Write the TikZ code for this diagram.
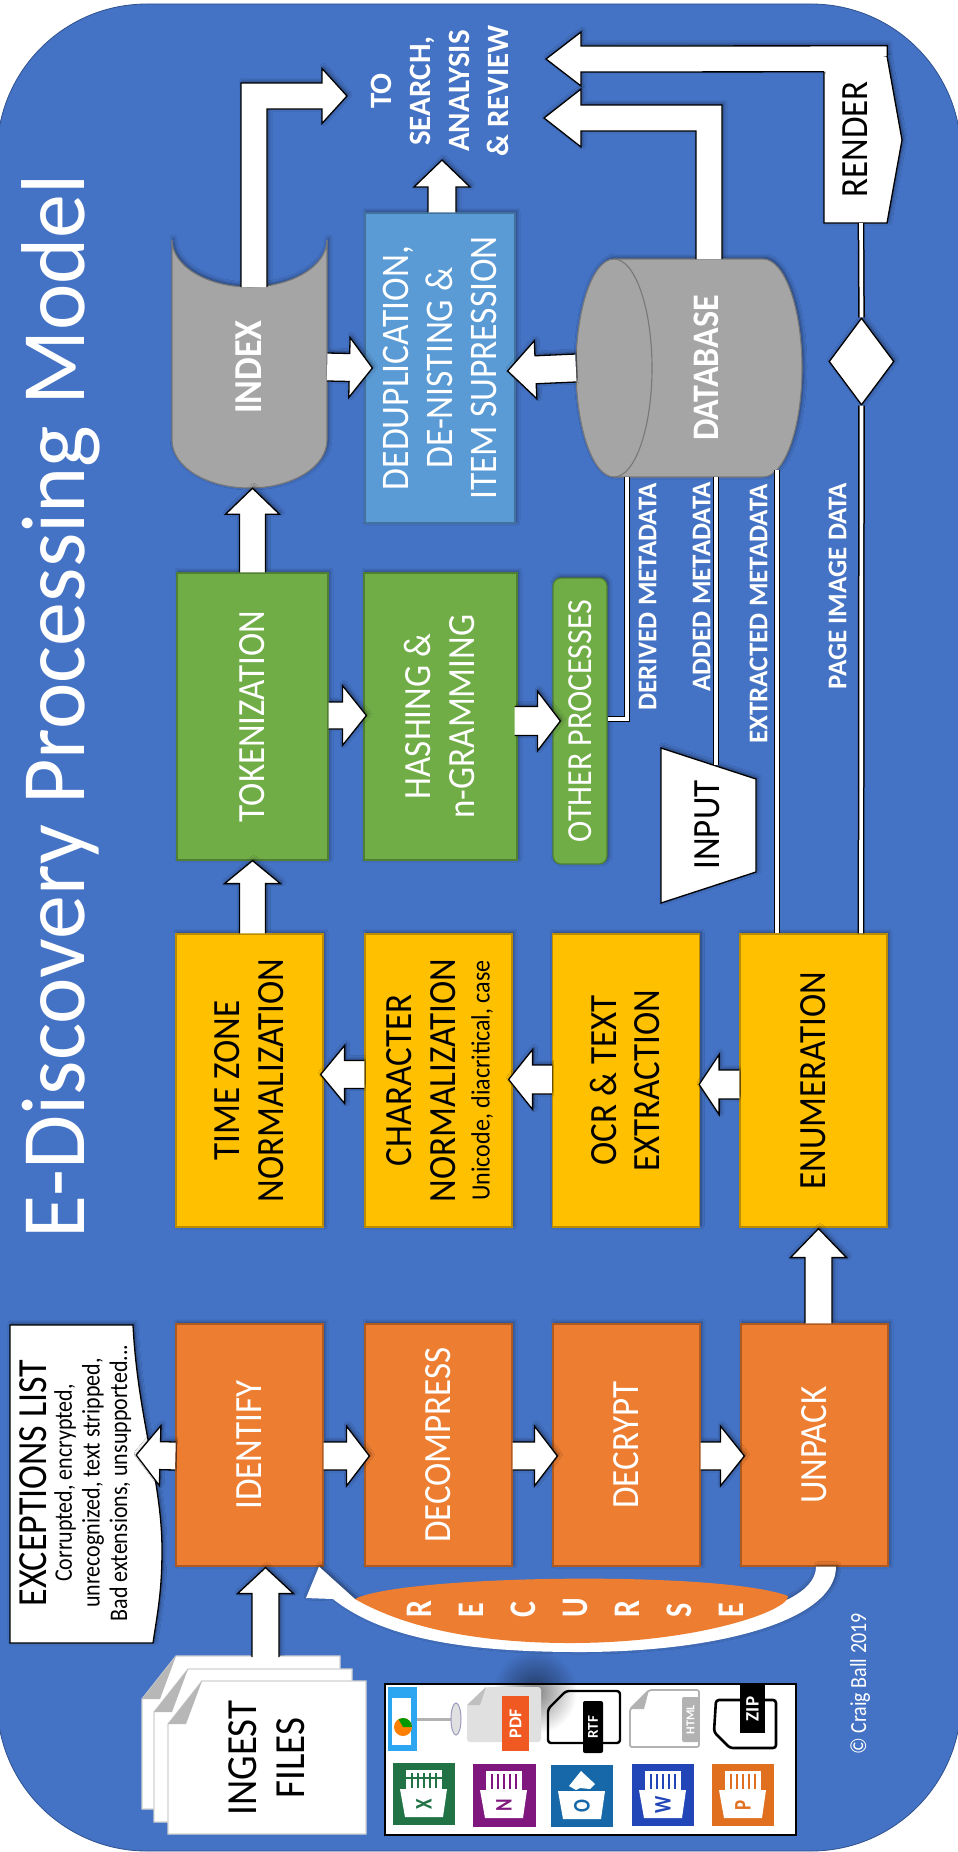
\documentclass[tikz,border=0pt]{standalone}
\usepackage{fontspec}
\setmainfont{Carlito}
\usetikzlibrary{calc,shapes.geometric,shadows.blur,fadings}
\definecolor{bgblue}{HTML}{4472C4}
\definecolor{bgedge}{HTML}{2F528F}
\definecolor{orangefill}{HTML}{ED7D31}
\definecolor{orangeedge}{HTML}{AE5A21}
\definecolor{yellowfill}{HTML}{FFC000}
\definecolor{yellowedge}{HTML}{BC8C00}
\definecolor{greenfill}{HTML}{70AD47}
\definecolor{greenedge}{HTML}{507E32}
\definecolor{bluefill}{HTML}{5B9BD5}
\definecolor{blueedge}{HTML}{41719C}
\definecolor{grayfill}{HTML}{A5A5A5}
\definecolor{grayedge}{HTML}{787878}
\definecolor{xlcolor}{HTML}{217346}
\definecolor{oncolor}{HTML}{80177F}
\definecolor{olcolor}{HTML}{1668A8}
\definecolor{wdcolor}{HTML}{2245B8}
\definecolor{ppcolor}{HTML}{E07020}
\definecolor{pdfcolor}{HTML}{F05A22}
\definecolor{kncolor}{HTML}{2CA6F0}
\tikzfading[name=softglow,inner color=transparent!50,outer color=transparent!100]
\newcommand\rt[2][1.1]{\rotatebox{90}{\scalebox{1}[#1]{\raisebox{-.09em}[\height][\depth]{\begin{tabular}{@{}c@{}}#2\end{tabular}}}}}
\newcommand\rl[1]{\makebox[52pt]{\rotatebox{90}{\scalebox{1}[1.25]{#1}}}}
\newcommand\barrow[5]{%
  \path #1 coordinate (bA); \path #2 coordinate (bB);
  \path ($(bB)!#5!(bA)$) coordinate (bH);
  \draw[blockarrow] ($(bA)!#3!90:(bB)$) -- ($(bH)!#3!-90:(bA)$) -- ($(bH)!#4!-90:(bA)$) -- (bB)
     -- ($(bH)!#4!90:(bA)$) -- ($(bH)!#3!90:(bA)$) -- ($(bA)!#3!-90:(bB)$);}
\newcommand\bentarrow[5]{% start, tip, sign, head length, head half
  \path #1 coordinate (bS); \path #2 coordinate (bT);
  \draw[blockarrow] ($(bS)+(-#3*13,0)$) -- ($(bS |- bT)+(-#3*13,-13)$) -- ($(bT)+(-#3*#4,-13)$)
     -- ($(bT)+(-#3*#4,-#5)$) -- (bT) -- ($(bT)+(-#3*#4,#5)$) -- ($(bT)+(-#3*#4,13)$)
     -- ($(bS |- bT)+(#3*13,13)$) -- ($(bS)+(#3*13,0)$);}
\newcommand\docpage[2]{%
  \filldraw[pagesheet] (#1+34,#2) -- (#1+198,#2) -- (#1+198,#2+153) -- (#1,#2+153) -- (#1,#2+43) -- cycle;
  \fill[grayfill!80] (#1+34,#2) -- (#1+18,#2+43) -- (#1,#2+43) -- cycle;}
\newcommand\iconbars[5]{% x y colour first-x last-x of the white sheet
  \fill[white] (#1+#4,#2+7) rectangle (#1+#5,#2+26);
  \foreach \k in {1,...,5}{\draw[#3,line width=1.2pt] (#1+#4+\k*6,#2+10) -- (#1+#4+\k*6,#2+25);}}
\newcommand\officeicon[4]{%
  \fill[white] (#1+7,#2+26) -- (#1+54,#2+26) -- (#1+50,#2+54) -- (#1+12,#2+54) -- cycle;
  \node[font=\fontsize{19}{20}\bfseries\selectfont,text=#3,inner sep=0pt] at (#1+31,#2+41) {\rotatebox{90}{\scalebox{1}[1.25]{#4}}};}
\tikzset{
  x=1pt,y=-1pt,
  softshadow/.style={blur shadow={shadow xshift=1.5pt,shadow yshift=1.5pt,shadow blur steps=6,shadow blur radius=3.5pt,shadow opacity=45}},
  procbox/.style={draw,line width=1.2pt,inner sep=0pt,softshadow},
  orangebox/.style={procbox,fill=orangefill,draw=orangeedge,text=white,minimum width=147pt,minimum height=242pt,font=\fontsize{35}{39}\selectfont},
  yellowbox/.style={procbox,fill=yellowfill,draw=yellowedge,text=black,minimum width=147pt,minimum height=293pt,font=\fontsize{35}{39.5}\selectfont},
  greenbox/.style={procbox,fill=greenfill,draw=greenedge,text=white,minimum height=287pt,font=\fontsize{35}{39.5}\selectfont},
  blockarrow/.style={draw=black,fill=white,line width=1.3pt,line join=miter,miter limit=8,softshadow},
  whiteshape/.style={draw=black,fill=white,line width=1.3pt,line join=miter,softshadow},
  graybarrel/.style={draw=grayedge,fill=grayfill,line width=1.1pt,softshadow},
  pagesheet/.style={draw=black!18,fill=white,line width=1.2pt},
  pipe/.style={draw=black,line width=1.5pt,double=white,double distance=3.7pt},
  plainlabel/.style={inner sep=0pt},
  metalabel/.style={inner sep=0pt,text=white,font=\fontsize{27}{30}\bfseries\selectfont},
  iconlabel/.style={inner sep=0pt,text=white,font=\fontsize{13}{14}\bfseries\selectfont},
}
\begin{document}
\begin{tikzpicture}
\useasboundingbox (0,0) rectangle (958,1852);
\fill[white] (0,0) rectangle (958,1852);
\filldraw[fill=bgblue,draw=bgedge,line width=.8pt,rounded corners=150pt] (-3,4) rectangle (961,1851);

% title
\node[plainlabel,text=white,font=\fontsize{88}{90}\selectfont] (title) at (58,706) {\rt[1.03]{E-Discovery Processing Model}};

% orange row
\node[orangebox] (identify) at (249.5,1445) {\rt{IDENTIFY}};
\node[orangebox] (decompress) at (438.5,1445) {\rt{DECOMPRESS}};
\node[orangebox] (decrypt) at (626.5,1445) {\rt{DECRYPT}};
\node[orangebox] (unpack) at (814.5,1445) {\rt{UNPACK}};

% yellow row
\node[yellowbox] (timezone) at (249.5,1080.5) {\rt{TIME ZONE\\NORMALIZATION}};
\node[yellowbox] (character) at (438.5,1080.5) {\rt{CHARACTER\\NORMALIZATION\\[-8pt]{\fontsize{24}{26}\selectfont Unicode, diacritical, case}}};
\node[yellowbox] (ocr) at (626,1080.5) {\rt{OCR \& TEXT\\EXTRACTION}};
\node[yellowbox] (enumeration) at (813.5,1080.5) {\rt{ENUMERATION}};

% green row
\node[greenbox,minimum width=151pt] (tokenization) at (252.5,716.5) {\rt{TOKENIZATION}};
\node[greenbox,minimum width=153pt] (hashing) at (440.5,716.5) {\rt{HASHING \&\\n-GRAMMING}};
\node[procbox,fill=greenfill,draw=greenedge,text=white,rounded corners=8pt,minimum width=54pt,minimum height=286pt,font=\fontsize{32}{36}\selectfont] (other) at (580,721) {\rt{OTHER PROCESSES}};

% dedupe
\node[procbox,fill=bluefill,draw=blueedge,text=white,minimum width=150pt,minimum height=310pt,font=\fontsize{35.5}{40}\selectfont] (dedupe) at (440,368) {\rt{DEDUPLICATION,\\DE-NISTING \&\\ITEM SUPRESSION}};

% index barrel
\filldraw[graybarrel] (172,240) .. controls (172,266) and (207,287) .. (249.5,287) .. controls (292,287) and (327,266) .. (327,240)
  -- (327,440) .. controls (327,467) and (292,488) .. (249.5,488) .. controls (207,488) and (172,467) .. (172,440) -- cycle;
\node[inner sep=0pt,minimum width=155pt,minimum height=242pt,text=white,font=\fontsize{36}{38}\bfseries\selectfont] (index) at (249.5,367) {\rt{INDEX}};
\coordinate (indextop) at (254,287);

% database
\filldraw[graybarrel] (614,259) -- (763,259) .. controls (784.5,259) and (802,308) .. (802,368) .. controls (802,428) and (784.5,477) .. (763,477)
  -- (614,477) .. controls (593,477) and (576,428) .. (576,368) .. controls (576,308) and (593,259) .. (614,259) -- cycle;
\draw[grayedge,line width=1.1pt] (614,259) .. controls (635,259) and (652,308) .. (652,368) .. controls (652,428) and (635,477) .. (614,477);
\node[inner sep=0pt,minimum width=226pt,minimum height=218pt] (database) at (689,368) {};
\node[plainlabel,text=white,font=\fontsize{34}{36}\bfseries\selectfont] (databaselabel) at (707,368) {\rt{DATABASE}};
\coordinate (databasetop) at (709,259);

% pipes
\coordinate (derivedend) at (627,477);
\coordinate (addedend) at (716,477);
\coordinate (extractedend) at (777,470);
\draw[pipe] ($(other.east)+(0,-2)$) -| (derivedend);
\draw[pipe] ($(enumeration.north)+(-36.5,0)$) -- (extractedend);

% input
\filldraw[whiteshape] (661,748) -- (756,779) -- (756,872) -- (661,903) -- cycle;
\node[plainlabel,text=black,minimum width=95pt,minimum height=155pt,font=\fontsize{35}{37}\selectfont] (input) at (708,825) {\rt{INPUT}};
\draw[pipe] ($(input.north)+(8,18)$) -- (addedend);

% render
\filldraw[whiteshape] (824,56) -- (887,56) -- (902,140) -- (887,223) -- (824,223) -- cycle;
\node[plainlabel,text=black,minimum width=63pt,minimum height=167pt,font=\fontsize{35}{37}\selectfont] (render) at (855.5,139.5) {\rt{RENDER}};
\node[diamond,whiteshape,inner sep=0pt,minimum width=65pt,minimum height=87pt,aspect=.75] (decision) at (861.5,361.5) {};
\draw[pipe] ($(render.south)+(5.5,0)$) -- (decision.north);
\draw[pipe] (decision.south) -- ($(enumeration.north)+(47.5,0)$);

% exceptions
\filldraw[draw=black,fill=white,line width=1.3pt,softshadow] (10,1325) -- (133,1325) .. controls (138,1420) and (162,1480) .. (162,1550)
  .. controls (162,1590) and (158,1610) .. (153,1643) -- (10,1643) -- cycle;
\node[inner sep=0pt,minimum width=152pt,minimum height=318pt] (exceptions) at (86,1484) {};
\node[plainlabel,text=black,font=\fontsize{22}{28}\selectfont] (exceptiontext) at (76,1483) {\rt[1.15]{{\fontsize{36}{36}\selectfont EXCEPTIONS LIST}\\[-6pt]Corrupted, encrypted,\\[-4pt]unrecognized, text stripped,\\[-4pt]Bad extensions, unsupported...}};

% ingest stack
\docpage{142}{1656}
\docpage{154}{1669}
\docpage{168}{1681}
\node[plainlabel,text=black,font=\fontsize{39}{44}\selectfont] (ingest) at (267,1758) {\rt{INGEST\\FILES}};
\coordinate (ingesttop) at (265.5,1657);

% icon box
\node[draw=black,fill=white,line width=1.4pt,inner sep=0pt,minimum width=411pt,minimum height=151pt] (iconbox) at (590.5,1759.5) {};
\fill[black,path fading=softglow,fit fading=true] (535,1692) circle[radius=42pt];
% keynote
\draw[black!30,line width=3pt] (417,1719) -- (452,1719);
\filldraw[fill=black!12,draw=blue!40!black!40,line width=1pt] (456,1719) ellipse[x radius=5,y radius=16];
\fill[kncolor] (388,1687) rectangle (417,1751);
\fill[white] (392,1698) rectangle (411,1745);
\fill[orange] (403,1727) circle[radius=9pt];
\fill[green!60!black] (403,1727) -- (412,1727) arc[start angle=0,end angle=120,radius=9pt] -- cycle;
% pdf
\fill[black!12,rounded corners=3pt] (467,1705) -- (486,1687) -- (541,1687) -- (541,1742) -- (467,1742) -- cycle;
\fill[black!25] (486,1687) -- (480,1705) -- (467,1705) -- cycle;
\node[fill=pdfcolor,inner sep=0pt,minimum width=27pt,minimum height=55pt] (pdflabel) at (515.5,1723.5) {};
\node[iconlabel,font=\fontsize{18}{19}\bfseries\selectfont] at (515.5,1723.5) {\rotatebox{90}{PDF}};
% rtf
\draw[black,line width=2.4pt,rounded corners=3pt] (566,1691) -- (620,1691) -- (620,1743) -- (548,1743) -- (548,1709) -- cycle;
\node[fill=black,rounded corners=2pt,inner sep=0pt,minimum width=20pt,minimum height=52pt] (rtflabel) at (593,1727) {};
\node[iconlabel,font=\fontsize{15}{16}\bfseries\selectfont] at (593,1727) {\rotatebox{90}{RTF}};
% html
\draw[black!30,line width=1.8pt,rounded corners=2pt] (649,1690) -- (699,1690) -- (699,1747) -- (630,1747) -- (630,1709) -- cycle;
\fill[black!30] (649,1690) -- (644,1709) -- (630,1709) -- cycle;
\node[fill=black!30,rounded corners=2pt,inner sep=0pt,minimum width=17pt,minimum height=45pt] (htmllabel) at (690.5,1719.5) {};
\node[iconlabel,font=\fontsize{12}{13}\bfseries\selectfont] at (690.5,1719.5) {\rotatebox{90}{HTML}};
% zip
\draw[black,line width=2.6pt,rounded corners=3pt] (716,1700) -- (776,1700) -- (776,1748) -- (730,1748) -- (714,1732) -- cycle;
\node[fill=black,inner sep=0pt,minimum width=25pt,minimum height=48pt] (ziplabel) at (752.5,1709) {};
\node[iconlabel,font=\fontsize{19}{20}\bfseries\selectfont] at (752.5,1709) {\rotatebox{90}{ZIP}};
% office icons
\fill[xlcolor] (393,1763) rectangle +(62,62);
\iconbars{393}{1763}{xlcolor}{13}{49}
\draw[xlcolor,line width=1.2pt] (406,1778) -- (442,1778);
\officeicon{393}{1763}{xlcolor}{X}
\fill[oncolor] (473,1764) rectangle +(63,63);
\iconbars{473}{1764}{oncolor}{13}{49}
\officeicon{473}{1764}{oncolor}{N}
\fill[olcolor] (551,1765) rectangle +(62,62);
\fill[white] (569,1786) -- (581,1771) -- (595,1784) -- (590,1789) -- (580,1788) -- (576,1790) -- cycle;
\officeicon{551}{1765}{olcolor}{O}
\fill[wdcolor] (632,1764) rectangle +(62,62);
\iconbars{632}{1764}{wdcolor}{13}{49}
\officeicon{632}{1764}{wdcolor}{W}
\fill[ppcolor] (712,1764) rectangle +(62,62);
\iconbars{712}{1764}{ppcolor}{13}{49}
\officeicon{712}{1764}{ppcolor}{P}

% recurse
\filldraw[fill=white,draw=none,softshadow] ($(unpack.south)+(21.5,0)$) .. controls (836,1620) and (720,1652) .. (580,1652) .. controls (470,1652) and (385,1640) .. (333,1599)
  -- (306,1598) -- ($(identify.south)+(69.5,0)$) -- (355,1599) .. controls (420,1620) and (500,1630) .. (580,1630) .. controls (700,1630) and (816,1610) .. ($(unpack.south)+(1.5,0)$) -- cycle;
\fill[orangefill] (355,1599) .. controls (400,1575) and (720,1570) .. (788,1596) .. controls (790,1610) and (700,1643) .. (570,1643) .. controls (470,1643) and (400,1625) .. (355,1599) -- cycle;
\node[plainlabel,text=white,font=\fontsize{30}{32}\bfseries\selectfont] (recurse) at (575,1608) {\rl{R}\rl{E}\rl{C}\rl{U}\rl{R}\rl{S}\rl{E}};

% labels
\node[metalabel] (derivedlabel) at (648,597) {\rt[1]{DERIVED METADATA}};
\node[metalabel] (addedlabel) at (702,587) {\rt[1]{ADDED METADATA}};
\node[metalabel] (extractedlabel) at (759,614) {\rt[1]{EXTRACTED METADATA}};
\node[metalabel] (pagelabel) at (838,586) {\rt[1]{PAGE IMAGE DATA}};
\node[plainlabel,text=white,font=\fontsize{31}{39}\bfseries\selectfont] (tosearch) at (439,91) {\rt[1]{TO\\SEARCH,\\ANALYSIS\\\& REVIEW}};
\node[plainlabel,text=white,font=\fontsize{20}{22}\selectfont] (copyright) at (859,1684) {\rt[1.15]{© Craig Ball 2019}};
\coordinate (toindex) at (347,96);
\coordinate (todb) at (544,118);
\coordinate (torender) at (546,59);
\coordinate (todedupe) at (442,160);

% block arrows
\barrow{(ingesttop)}{($(identify.south)+(16,1)$)}{13.5pt}{28pt}{26pt}
\barrow{($(identify.west)+(0,11)$)}{($(exceptions.east)+(-26,-29)$)}{14pt}{30pt}{24pt}
\barrow{($(identify.east)+(0,11)$)}{($(decompress.west)+(5,11)$)}{14pt}{30pt}{23pt}
\barrow{($(decompress.east)+(0,11)$)}{($(decrypt.west)+(5,11)$)}{14pt}{30pt}{23pt}
\barrow{($(decrypt.east)+(0,11)$)}{($(unpack.west)+(4,11)$)}{14pt}{30pt}{24pt}
\barrow{($(unpack.north)+(4,0)$)}{($(enumeration.south)+(5,1)$)}{13.5pt}{28pt}{29pt}
\barrow{($(enumeration.west)+(0,4)$)}{($(ocr.east)+(-1,4)$)}{14.5pt}{30pt}{20pt}
\barrow{($(ocr.west)+(0,-1)$)}{($(character.east)+(-4,-1)$)}{14.5pt}{30pt}{24pt}
\barrow{($(character.west)+(0,-6)$)}{($(timezone.east)+(-3,-6)$)}{14pt}{29pt}{24pt}
\barrow{($(timezone.north)+(3,0)$)}{($(tokenization.south)$)}{13pt}{28pt}{23pt}
\barrow{($(tokenization.east)+(0,-1)$)}{($(hashing.west)+(3,-1)$)}{13.5pt}{30pt}{24pt}
\barrow{($(hashing.east)+(-3,4.5)$)}{($(other.west)+(8,0)$)}{14.5pt}{30pt}{23pt}
\barrow{($(tokenization.north)$)}{($(index.south)+(3,0)$)}{13pt}{27pt}{26pt}
\barrow{(index.east)}{($(dedupe.west)+(8,0)$)}{14pt}{30pt}{23pt}
\barrow{(database.west)}{($(dedupe.east)+(-8,3)$)}{14pt}{29pt}{28pt}
\barrow{($(dedupe.north)+(2,0)$)}{(todedupe)}{14pt}{28pt}{27pt}
\bentarrow{(indextop)}{(toindex)}{1}{25}{27.5}
\bentarrow{(databasetop)}{(todb)}{-1}{37}{29}
\draw[blockarrow] (render.north east) -- ($(render.north east)+(0,-10)$) -- ($(torender)+(35,-13)$) -- ($(torender)+(35,-27)$) -- (torender)
  -- ($(torender)+(35,27)$) -- ($(torender)+(35,13)$) -- ($(render.north west)+(0,16)$);
\end{tikzpicture}
\end{document}
